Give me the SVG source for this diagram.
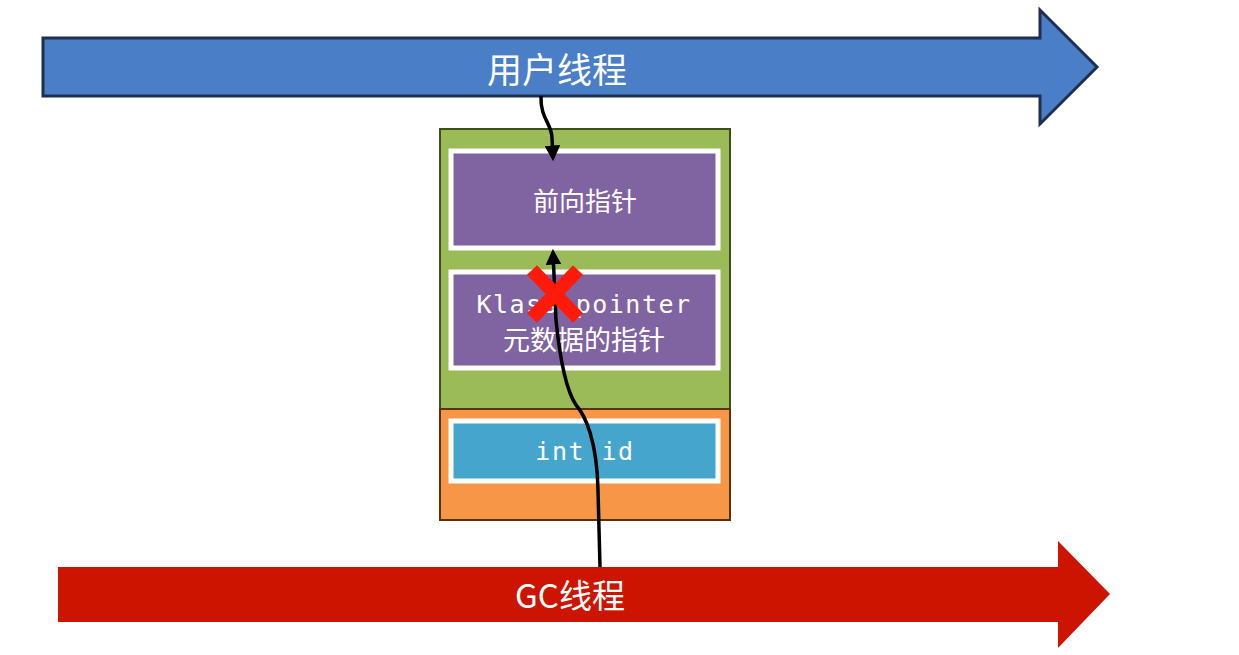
<svg xmlns="http://www.w3.org/2000/svg" width="1239" height="655" viewBox="0 0 1239 655">
<style>
.cjk{font-family:"Noto Sans CJK SC","Noto Sans",sans-serif;fill:#fff;text-anchor:middle;dominant-baseline:central}
.mono{font-family:"DejaVu Sans Mono","Liberation Mono",monospace;fill:#fff;text-anchor:middle;dominant-baseline:central;letter-spacing:1.5px}
.field{fill:#8064A2;stroke:#fff;stroke-width:5}
.conn{fill:none;stroke:#000;stroke-width:3.5}
</style>
<defs>
<marker id="ah" viewBox="0 0 10 10" refX="8" refY="5" markerWidth="4.5" markerHeight="4.5" orient="auto" markerUnits="strokeWidth">
<path d="M0,0 L10,5 L0,10 Z" fill="#000"/>
</marker>
</defs>
<rect width="1239" height="655" fill="#fff"/>
<g id="user-thread">
<path d="M43,38 L1040,38 L1040,10 L1097,67 L1040,124 L1040,96 L43,96 Z" fill="#4A7EC6" stroke="#1F2F4F" stroke-width="3"/>
<text class="cjk" x="557" y="67" font-size="35">用户线程</text>
</g>
<g id="gc-thread">
<path d="M58,567 L1058,567 L1058,541 L1110,594 L1058,648 L1058,622 L58,622 Z" fill="#CC1400"/>
<text class="cjk" x="570" y="594" font-size="33">GC线程</text>
</g>
<g id="object">
<rect x="440" y="129" width="290" height="280" fill="#9BBB59" stroke="#3E4F1C" stroke-width="2"/>
<rect x="440" y="409" width="290" height="111" fill="#F79646" stroke="#5A3210" stroke-width="2"/>
</g>
<g id="forward-pointer">
<rect class="field" x="451" y="151" width="267" height="97"/>
<text class="cjk" x="585" y="199" font-size="26">前向指针</text>
</g>
<g id="klass-pointer">
<rect class="field" x="451" y="272" width="267" height="96"/>
<text class="mono" x="584" y="304" font-size="25">Klass pointer</text>
<text class="cjk" x="584" y="338" font-size="27">元数据的指针</text>
</g>
<g id="int-id">
<rect x="451" y="421" width="267" height="60" fill="#45A5CC" stroke="#fff" stroke-width="5"/>
<text class="mono" x="585" y="451" font-size="25">int id</text>
</g>
<g id="connectors">
<path class="conn" d="M541,96 C540,118 552,124 552,138 L553,158" marker-end="url(#ah)"/>
<path class="conn" d="M600,567 L598,490 C597,440 585,415 576,405 C566,390 560,360 556,320 L553,252" marker-end="url(#ah)"/>
</g>
<g id="cross">
<path d="M532,270 L578,318 M578,270 L532,318" stroke="#FF1A0A" stroke-width="14" fill="none"/>
</g>
</svg>
